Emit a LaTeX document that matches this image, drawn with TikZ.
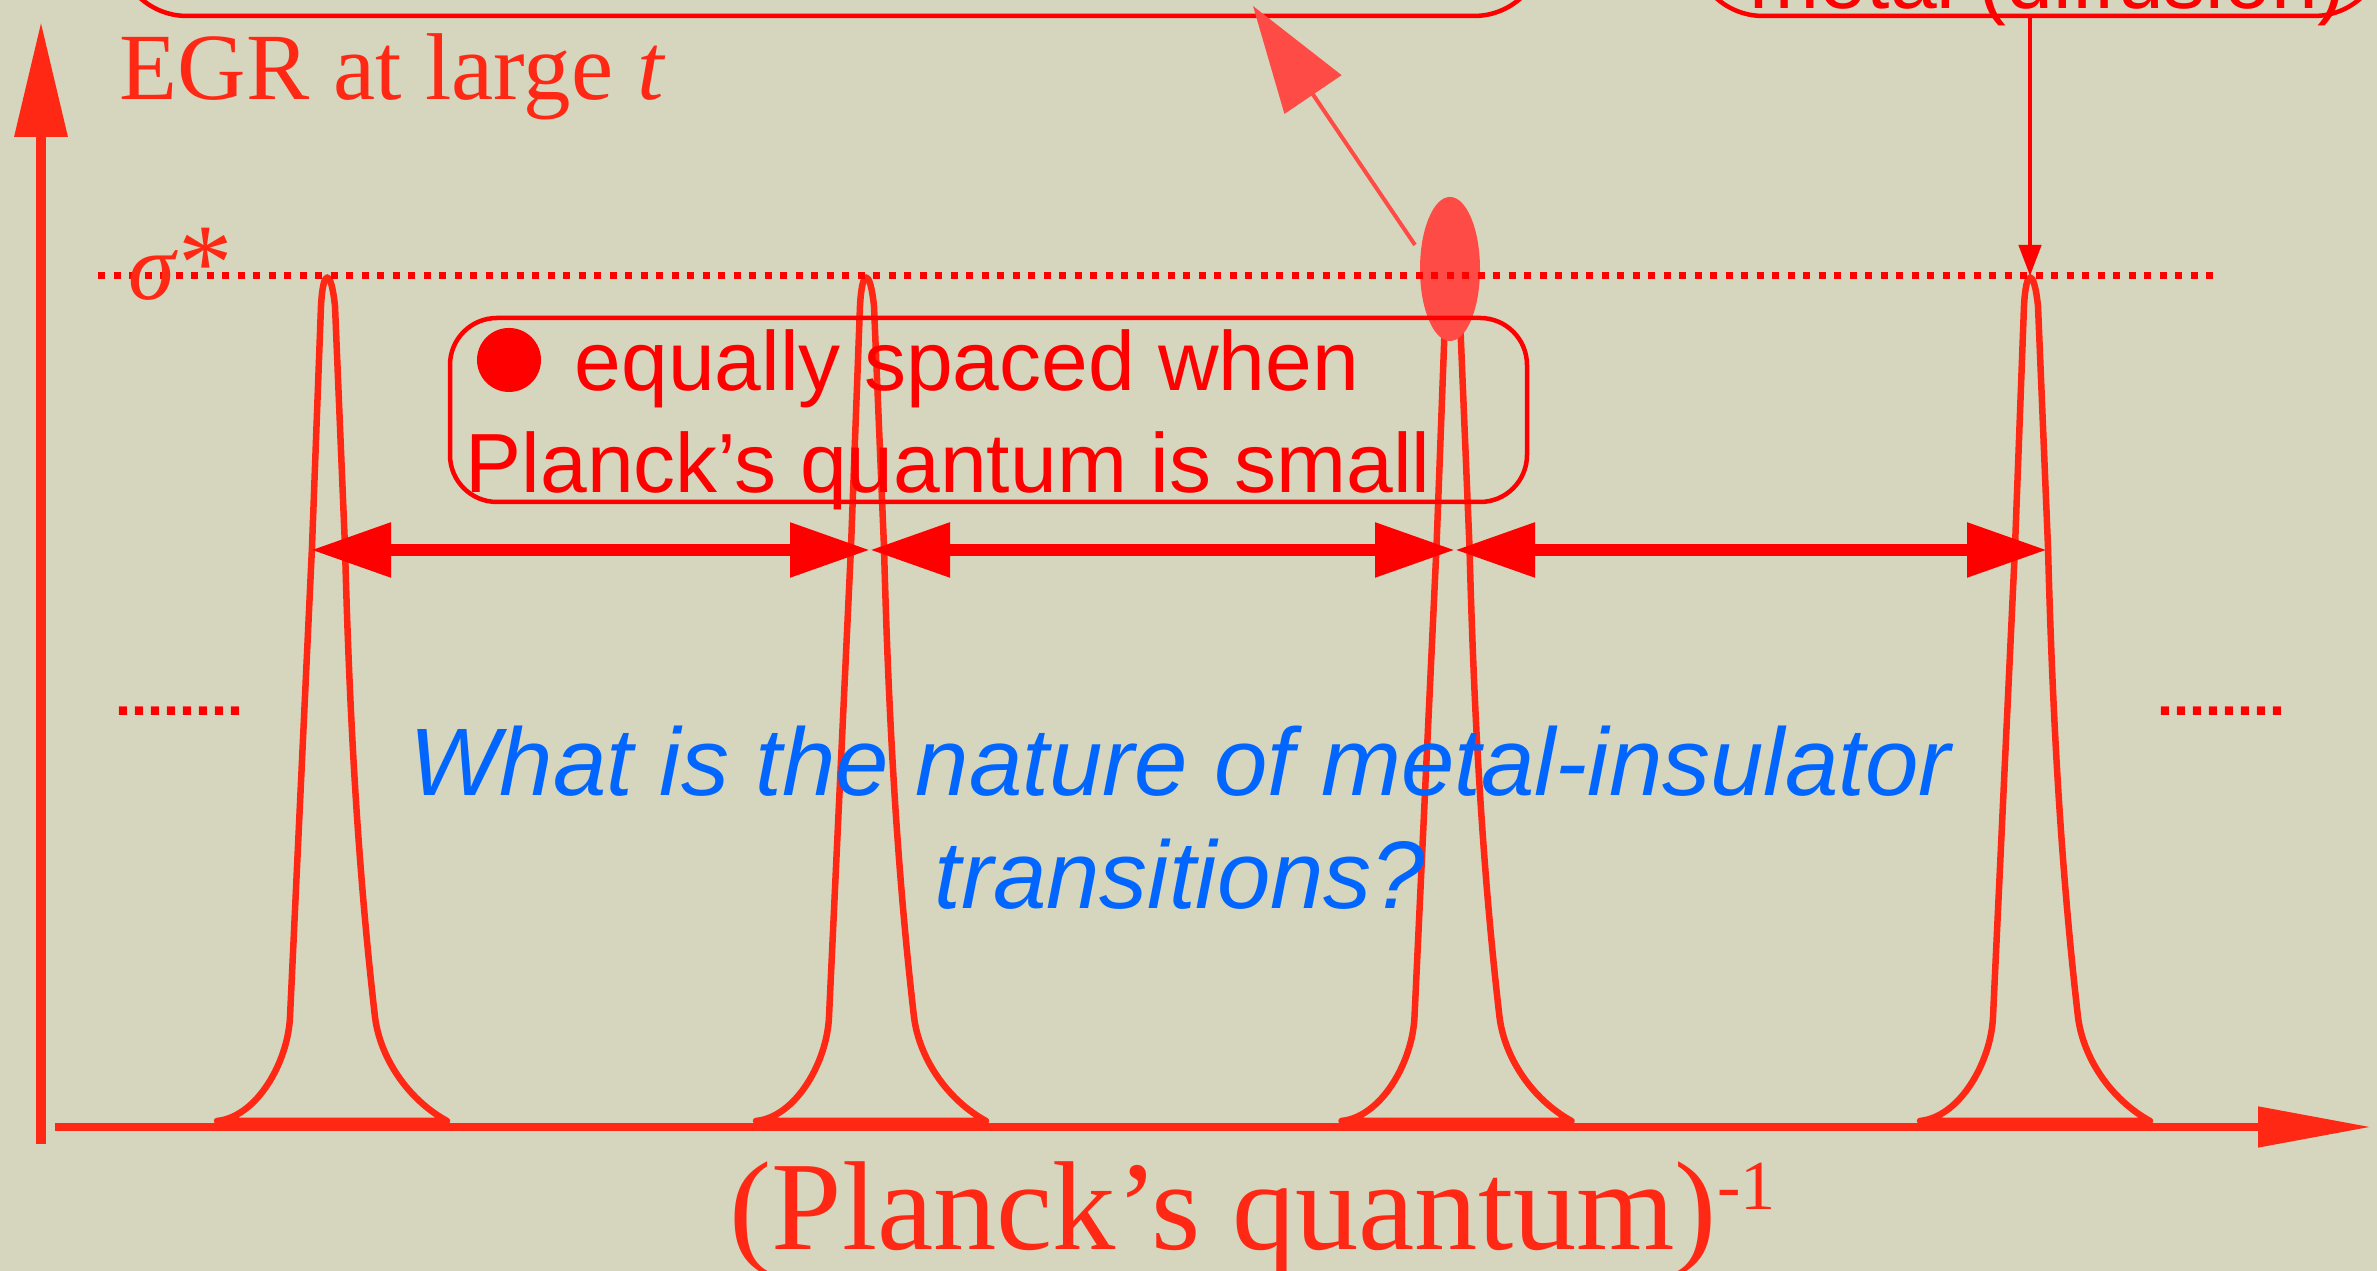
\documentclass[tikz,border=0pt]{standalone}
\usepackage{fontspec}
\setmainfont{Liberation Serif}
\setsansfont{Liberation Sans}
\usetikzlibrary{arrows.meta,shapes.geometric}

\definecolor{bgpaper}{RGB}{214,213,189}
\definecolor{peakred}{RGB}{255,40,20}
\definecolor{boxred}{RGB}{255,0,0}
\definecolor{ovalred}{RGB}{255,75,70}
\definecolor{qblue}{RGB}{0,102,255}

\tikzset{
    axisline/.style={peakred, line width=0.1cm},
    peakline/.style={peakred, line width=0.065cm, line join=round},
    gap/.style={boxred, line width=0.12cm, {Triangle[length=0.8cm,width=0.52cm]}-{Triangle[length=0.8cm,width=0.52cm]}},
    note/.style={draw=boxred, line width=0.045cm, rounded corners=0.47cm, inner sep=0},
    boxtext/.style={text=boxred, inner sep=0, font=\sffamily\fontsize{23.9}{28}\selectfont},
    serifbig/.style={text=peakred, inner sep=0, font=\fontsize{27}{32}\selectfont}
}

\begin{document}
\begin{tikzpicture}
    % Background
    \fill[bgpaper] (0,0) rectangle (23.77,12.71);
    \useasboundingbox (0,0) rectangle (23.77,12.71);
    \clip (0,0) rectangle (23.77,12.71);

    % Axes
    \coordinate (ybot) at (0.41,1.27);
    \coordinate (ytop) at (0.41,12.49);
    \coordinate (xleft) at (0.55,1.44);
    \coordinate (xright) at (23.71,1.44);
    \draw[axisline, -{Triangle[length=1.15cm,width=0.51cm]}] (ybot) -- (ytop);
    \draw[axisline, line width=0.08cm, -{Triangle[length=1.13cm,width=0.39cm]}] (xleft) -- (xright);

    % Peaks
    \foreach \cx/\name in {3.27/p1, 8.66/p2, 14.515/p3, 20.30/p4} {
        \draw[peakline, shift={(\cx,1.50)}]
            (-1.10,0) .. controls (-0.70,0.04) and (-0.39,0.59) .. (-0.37,1.04)
            -- (-0.15,5.74) -- (-0.06,8.15)
            .. controls (-0.04,8.53) and (0.04,8.53) .. (0.08,8.15)
            -- (0.18,5.74) .. controls (0.22,4.2) and (0.30,2.6) .. (0.48,1.04)
            .. controls (0.53,0.64) and (0.80,0.22) .. (1.20,0) -- cycle;
        \coordinate (\name) at (\cx,9.95);
    }

    % Highlighted peak
    \node[ellipse, fill=ovalred, minimum width=0.60cm, minimum height=1.44cm, inner sep=0] (hit) at (14.50,10.02) {};

    % sigma* level
    \draw[boxred, line width=0.07cm, dash pattern=on 0.07cm off 0.085cm] (0.98,9.95) -- (22.21,9.95);
    \node[serifbig, anchor=base west] (sig) at (1.28,9.71) {\textit{σ}{\fontsize{31}{32}\selectfont *}};

    % Spacing arrows
    \coordinate (g0) at (3.11,7.21);
    \coordinate (g1) at (8.70,7.21);
    \coordinate (g2) at (14.55,7.21);
    \coordinate (g3) at (20.47,7.21);
    \foreach \a/\b in {g0/g1, g1/g2, g2/g3} {
        \draw[gap] (\a) -- (\b);
    }

    % Box
    \node[note, minimum width=10.77cm, minimum height=1.84cm] (spaced) at (9.885,8.61) {};
    \fill[boxred] (5.09,9.11) circle (0.32cm);
    \node[boxtext, anchor=base west] (line1) at (5.74,8.80) {equally spaced when};
    \node[boxtext, anchor=base west] (line2) at (4.65,7.78) {Planck’s quantum is small};

    % Boxes at the top
    \node[note, rounded corners=0.7cm, minimum width=14.27cm, minimum height=1.6cm] (egrbox) at (8.305,13.35) {};
    \node[note, rounded corners=0.7cm, minimum width=6.91cm, minimum height=1.6cm] (metalbox) at (20.385,13.35) {};
    \node[boxtext, anchor=base] (metal) at (20.48,12.62) {metal (diffusion)};

    % Callouts
    \coordinate (tail) at (14.15,10.26);
    \coordinate (boxtip) at (12.53,12.65);
    \draw[ovalred, line width=0.04cm, -{Triangle[length=1.07cm,width=0.68cm]}] (tail) -- (boxtip);
    \draw[boxred, line width=0.045cm, -{Triangle[length=0.31cm,width=0.22cm]}] (metalbox.south -| p4) -- (p4);

    % Labels
    \node[serifbig, anchor=base west] (egr) at (1.19,11.71) {EGR at large \textit{t}};
    \node[text=boxred, inner sep=0, anchor=base west, font=\sffamily\bfseries\fontsize{16.4}{18}\selectfont] (dotsl) at (1.15,5.55) {........};
    \node[text=boxred, inner sep=0, anchor=base west, font=\sffamily\bfseries\fontsize{16.4}{18}\selectfont] (dotsr) at (21.57,5.55) {........};
    \node[text=qblue, inner sep=0, align=center, font=\sffamily\itshape\fontsize{27.3}{32.1}\selectfont] (question) at (11.80,4.53) {What is the nature of metal-insulator\\transitions?};
    \node[text=peakred, inner sep=0, anchor=base west, font=\fontsize{36}{40}\selectfont] (xlabel) at (7.29,0.21) {(Planck’s quantum)\raisebox{0.40cm}{\fontsize{20}{20}\selectfont -1}};
\end{tikzpicture}
\end{document}
